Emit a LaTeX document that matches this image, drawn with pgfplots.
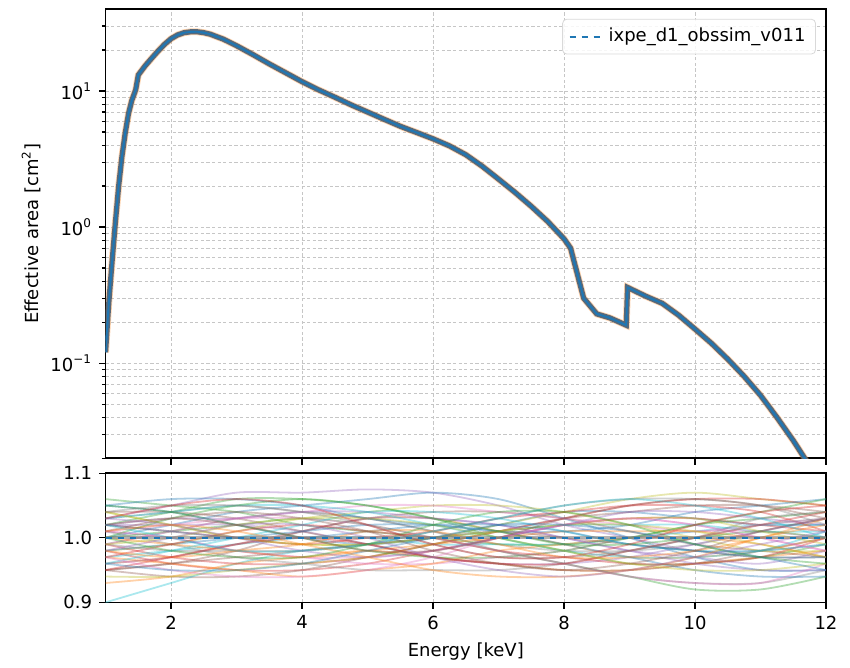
\documentclass[border=0pt]{standalone}
\usepackage{fontspec}
\setmainfont{DejaVu Sans}
\usepackage{pgfplots}
\pgfplotsset{compat=1.18}
\definecolor{c0}{HTML}{1F77B4}
\definecolor{c1}{HTML}{FF7F0E}
\definecolor{c2}{HTML}{2CA02C}
\definecolor{c3}{HTML}{D62728}
\definecolor{c4}{HTML}{9467BD}
\definecolor{c5}{HTML}{8C564B}
\definecolor{c6}{HTML}{E377C2}
\definecolor{c7}{HTML}{7F7F7F}
\definecolor{c8}{HTML}{BCBD22}
\definecolor{c9}{HTML}{17BECF}
\definecolor{band}{HTML}{56687A}
\pgfplotscreateplotcyclelist{tabc}{{c0},{c1},{c2},{c3},{c4},{c5},{c6},{c7},{c8},{c9}}
\newcommand\rl[9]{\def\ra{(1,#1)(2,#2)(3,#3)(4,#4)(5,#5)(6,#6)(7,#7)(8,#8)(9,#9)}\rlb}
\newcommand\rlb[3]{\edef\tmp{\noexpand\addplot+[smooth, no markers] coordinates {\ra(10,#1)(11,#2)(12,#3)};}\tmp}
\pgfplotsset{
  every axis/.append style={font=\fontsize{9}{11}\selectfont},
  myax/.style={
    scale only axis, width=360pt,
    xmin=1, xmax=12,
    axis line style={line width=0.8pt},
    tick style={black, line width=0.6pt},
    major tick length=3.2pt, minor tick length=1.8pt,
    tick align=outside, xtick pos=bottom, ytick pos=left,
    major grid style={dash pattern=on 1.6pt off 1.2pt, gray!45, line width=0.4pt},
    minor grid style={dash pattern=on 1.6pt off 1.2pt, gray!45, line width=0.4pt},
    /pgf/number format/assume math mode=true,
  }
}
\begin{document}
\begin{tikzpicture}
\begin{axis}[myax, name=top, height=224.5pt,
  ymode=log, ymin=0.02, ymax=40,
  xtick={2,4,...,12}, xticklabels={},
  ytick={0.1,1,10},
  yticklabels={10\textsuperscript{−1},10\textsuperscript{0},10\textsuperscript{1}},
  minor ytick={0.02,0.03,0.04,0.05,0.06,0.07,0.08,0.09,0.2,0.3,0.4,0.5,0.6,0.7,0.8,0.9,2,3,4,5,6,7,8,9,20,30},
  grid=both,
  ylabel={Effective area [cm\textsuperscript{2}]},
  ylabel style={yshift=-2pt},
  clip=true,
  legend style={at={(0.986,0.978)}, anchor=north east, draw=gray!30, rounded corners=2pt,
    fill=white, fill opacity=0.85, text opacity=1, inner xsep=3pt, inner ysep=2.5pt,
    font=\fontsize{9}{11}\selectfont},
  legend cell align=left,
]
\pgfplotstableread{
x y
1.0 0.12
1.05 0.28
1.1 0.56
1.15 1.08
1.2 2.0
1.25 3.3
1.3 4.9
1.35 6.8
1.4 8.5
1.46 10.2
1.5 13.1
1.6 15.2
1.7 17.3
1.8 19.6
1.9 22
2.0 24.2
2.1 25.8
2.2 26.8
2.3 27.2
2.4 27.2
2.5 26.8
2.6 26.1
2.8 24
3.0 21.5
3.25 18.5
3.5 15.8
3.75 13.6
4.0 11.7
4.25 10.2
4.5 9.0
4.75 7.9
5.0 7.0
5.25 6.2
5.5 5.5
5.75 4.95
6.0 4.45
6.25 3.95
6.5 3.4
6.75 2.8
7.0 2.25
7.25 1.8
7.5 1.42
7.75 1.1
8.0 0.82
8.1 0.70
8.3 0.30
8.5 0.23
8.7 0.215
8.95 0.19
8.97 0.36
9.25 0.31
9.5 0.275
9.75 0.225
10.0 0.178
10.25 0.14
10.5 0.107
10.75 0.08
11.0 0.058
11.25 0.040
11.5 0.027
11.72 0.0185
}\aeff
\addplot[forget plot, c1, opacity=0.35, line width=3.4pt] table {\aeff};
\addplot[forget plot, band, line width=2.6pt] table {\aeff};
\addplot[forget plot, c0, line width=0.9pt] table {\aeff};
\addplot[c0, dashed, line width=0.9pt] table {\aeff};
\addlegendentry{ixpe\_d1\_obssim\_v011}
\end{axis}

\begin{axis}[myax, name=bot, at={(top.south west)}, anchor=north west, yshift=-7.5pt,
  height=64.5pt,
  ymin=0.9, ymax=1.1,
  xtick={2,4,...,12},
  ytick={0.9,1.0,1.1}, yticklabels={0.9,1.0,1.1},
  xmajorgrids,
  xlabel={Energy [keV]},
  cycle list name=tabc,
  every axis plot/.append style={opacity=0.36, line width=0.9pt},
]
\rl{1.05}{1.04}{1.02}{1.00}{0.99}{1.00}{1.02}{1.04}{1.04}{1.03}{1.02}{1.02}
\rl{0.96}{0.97}{0.99}{1.01}{1.03}{1.03}{1.01}{0.99}{0.97}{0.97}{0.98}{1.00}
\rl{1.02}{1.04}{1.06}{1.06}{1.05}{1.03}{1.00}{0.98}{0.96}{0.96}{0.97}{0.99}
\rl{0.98}{0.96}{0.95}{0.95}{0.96}{0.98}{1.00}{1.02}{1.03}{1.03}{1.02}{1.01}
\rl{1.03}{1.05}{1.07}{1.07}{1.075}{1.07}{1.05}{1.02}{1.00}{0.98}{0.98}{0.99}
\rl{0.95}{0.94}{0.94}{0.95}{0.97}{0.99}{1.01}{1.03}{1.04}{1.05}{1.05}{1.04}
\rl{1.01}{1.00}{0.98}{0.97}{0.97}{0.98}{1.00}{1.02}{1.03}{1.02}{1.00}{0.98}
\rl{0.99}{1.01}{1.03}{1.04}{1.03}{1.01}{0.99}{0.98}{0.98}{0.99}{1.01}{1.03}
\rl{1.04}{1.02}{1.00}{0.99}{0.99}{1.00}{1.02}{1.04}{1.06}{1.07}{1.06}{1.05}
\rl{0.90}{0.93}{0.96}{0.98}{0.99}{1.00}{1.01}{1.02}{1.02}{1.02}{1.01}{1.01}
\rl{1.00}{1.02}{1.04}{1.05}{1.06}{1.07}{1.06}{1.03}{1.00}{0.97}{0.95}{0.95}
\rl{0.93}{0.94}{0.96}{0.97}{0.98}{0.97}{0.96}{0.95}{0.95}{0.96}{0.97}{0.98}
\rl{1.06}{1.05}{1.04}{1.02}{1.01}{1.00}{0.99}{0.99}{1.00}{1.02}{1.03}{1.04}
\rl{0.99}{0.97}{0.96}{0.96}{0.97}{0.99}{1.01}{1.03}{1.05}{1.06}{1.06}{1.05}
\rl{1.02}{1.02}{1.02}{1.01}{0.99}{0.97}{0.96}{0.96}{0.97}{0.99}{1.01}{1.03}
\rl{0.95}{0.96}{0.98}{1.01}{1.03}{1.04}{1.04}{1.03}{1.01}{0.99}{0.98}{0.97}
\rl{1.01}{1.00}{0.98}{0.97}{0.96}{0.96}{0.97}{0.98}{1.00}{1.01}{1.01}{1.00}
\rl{1.03}{1.04}{1.05}{1.04}{1.03}{1.01}{0.98}{0.96}{0.94}{0.93}{0.93}{0.95}
\rl{0.98}{0.99}{1.01}{1.03}{1.04}{1.05}{1.05}{1.04}{1.02}{1.00}{0.98}{0.98}
\rl{0.97}{0.98}{0.99}{1.00}{1.00}{0.99}{0.99}{0.99}{1.00}{1.01}{1.02}{1.02}
\rl{1.05}{1.06}{1.06}{1.05}{1.03}{1.02}{1.01}{1.01}{1.02}{1.04}{1.05}{1.06}
\rl{0.97}{0.96}{0.95}{0.94}{0.95}{0.96}{0.98}{0.99}{1.00}{1.00}{0.99}{0.97}
\rl{1.00}{1.01}{1.02}{1.03}{1.02}{1.00}{0.98}{0.96}{0.94}{0.92}{0.92}{0.94}
\rl{1.02}{1.01}{1.00}{0.99}{1.00}{1.01}{1.03}{1.04}{1.05}{1.05}{1.04}{1.01}
\rl{0.96}{0.97}{0.99}{1.01}{1.03}{1.03}{1.02}{1.00}{0.98}{0.97}{0.96}{0.98}
\rl{1.04}{1.04}{1.03}{1.01}{0.99}{0.97}{0.96}{0.95}{0.95}{0.96}{0.98}{1.00}
\rl{0.99}{1.01}{1.03}{1.04}{1.05}{1.05}{1.04}{1.03}{1.02}{1.01}{1.02}{1.03}
\rl{1.01}{0.99}{0.97}{0.96}{0.95}{0.95}{0.95}{0.96}{0.98}{1.00}{1.03}{1.04}
\rl{0.94}{0.94}{0.95}{0.96}{0.97}{0.99}{1.01}{1.02}{1.03}{1.03}{1.01}{0.99}
\rl{1.03}{1.04}{1.05}{1.05}{1.04}{1.02}{1.00}{0.98}{0.97}{0.97}{0.98}{1.01}
\rl{0.98}{0.99}{1.00}{1.01}{1.02}{1.02}{1.01}{0.99}{0.97}{0.95}{0.94}{0.94}
\rl{1.00}{0.99}{0.98}{0.97}{0.98}{0.99}{1.00}{1.01}{1.01}{1.01}{1.00}{1.00}
\rl{1.05}{1.04}{1.02}{1.00}{0.98}{0.97}{0.97}{0.98}{1.00}{1.02}{1.04}{1.06}
\rl{0.97}{0.99}{1.01}{1.02}{1.01}{1.00}{0.98}{0.97}{0.96}{0.96}{0.97}{1.00}
\rl{1.02}{1.03}{1.03}{1.04}{1.04}{1.03}{1.02}{1.00}{0.98}{0.96}{0.95}{0.95}
\rl{0.95}{0.96}{0.97}{0.98}{0.99}{1.00}{1.01}{1.00}{0.99}{0.98}{0.97}{0.97}
\rl{1.01}{1.02}{1.03}{1.03}{1.02}{1.00}{0.98}{0.96}{0.94}{0.93}{0.93}{0.96}
\rl{0.99}{0.98}{0.98}{0.98}{0.99}{1.01}{1.03}{1.05}{1.06}{1.06}{1.05}{1.02}
\rl{1.04}{1.02}{1.00}{0.99}{0.99}{1.00}{1.01}{1.02}{1.02}{1.01}{0.99}{0.97}
\rl{0.96}{0.98}{1.00}{1.02}{1.04}{1.04}{1.03}{1.01}{0.99}{0.98}{0.98}{0.99}
\rl{1.02}{1.01}{1.00}{1.00}{1.01}{1.02}{1.02}{1.01}{0.99}{0.98}{0.97}{0.97}
\rl{0.98}{0.97}{0.98}{0.99}{1.01}{1.01}{0.99}{0.97}{0.97}{0.98}{1.00}{1.03}
\rl{1.00}{1.03}{1.05}{1.06}{1.05}{1.03}{1.01}{0.99}{0.99}{1.00}{1.01}{1.00}
\rl{0.95}{0.97}{0.99}{1.00}{0.99}{0.97}{0.96}{0.96}{0.98}{1.00}{1.02}{1.04}
\rl{1.03}{1.02}{1.00}{0.98}{0.97}{0.98}{1.00}{1.02}{1.04}{1.04}{1.03}{1.02}
\rl{1.01}{1.03}{1.04}{1.03}{1.01}{0.98}{0.96}{0.95}{0.96}{0.98}{1.01}{1.03}
\rl{0.97}{0.95}{0.94}{0.94}{0.95}{0.97}{1.00}{1.02}{1.03}{1.02}{1.00}{0.98}
\rl{1.04}{1.05}{1.05}{1.04}{1.02}{0.99}{0.97}{0.97}{0.98}{1.00}{1.02}{1.03}
\rl{0.99}{1.00}{1.02}{1.03}{1.03}{1.02}{1.00}{0.98}{0.96}{0.95}{0.95}{0.96}
\rl{1.02}{1.00}{0.98}{0.98}{0.99}{1.01}{1.03}{1.05}{1.06}{1.05}{1.03}{1.00}
\rl{0.96}{0.95}{0.95}{0.96}{0.98}{1.00}{1.02}{1.02}{1.01}{0.99}{0.97}{0.95}
\rl{1.01}{1.02}{1.01}{0.99}{0.97}{0.95}{0.94}{0.94}{0.95}{0.97}{1.00}{1.02}
\rl{1.00}{0.98}{0.97}{0.97}{0.99}{1.02}{1.04}{1.04}{1.02}{0.99}{0.97}{0.96}
\rl{1.03}{1.05}{1.06}{1.05}{1.02}{0.99}{0.97}{0.97}{0.99}{1.02}{1.04}{1.05}
\rl{0.98}{1.00}{1.02}{1.02}{1.00}{0.97}{0.95}{0.94}{0.95}{0.97}{0.99}{1.01}
\rl{1.02}{1.03}{1.02}{1.00}{0.98}{0.98}{1.00}{1.03}{1.05}{1.06}{1.05}{1.03}
\addplot[c7, opacity=0.6, line width=1.4pt] coordinates {(1,1)(12,1)};
\addplot[c0, dashed, opacity=1, line width=1.2pt] coordinates {(1,1)(12,1)};
\end{axis}
\path (top.north west) ++(-52.75pt,4.5pt);
\path (bot.south east) ++(12pt,-30.5pt);
\end{tikzpicture}
\end{document}
